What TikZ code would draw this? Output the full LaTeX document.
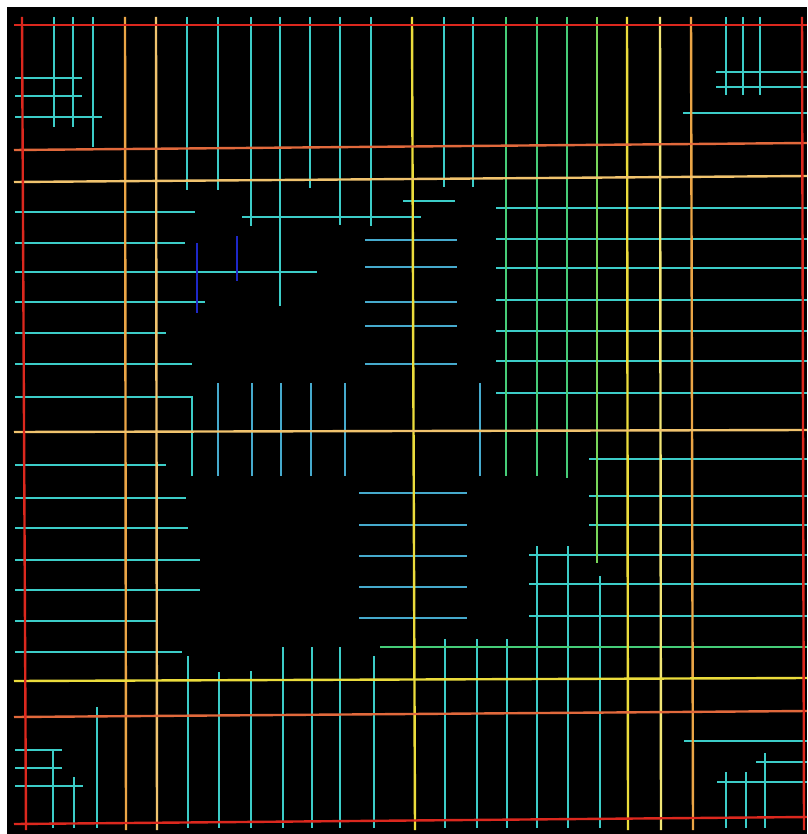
\documentclass[tikz,border=0pt]{standalone}
\definecolor{cred}{RGB}{220,40,30}
\definecolor{corr}{RGB}{225,105,60}
\definecolor{corg}{RGB}{235,165,70}
\definecolor{clor}{RGB}{240,195,110}
\definecolor{cyel}{RGB}{235,220,60}
\definecolor{cgrn}{RGB}{70,205,120}
\definecolor{cygr}{RGB}{120,215,90}
\definecolor{ccyn}{RGB}{60,205,200}
\definecolor{ccyb}{RGB}{70,170,205}
\definecolor{cblu}{RGB}{30,40,200}
\begin{document}
\begin{tikzpicture}[x=1pt,y=-1pt,line width=2.4pt,
  cy/.style={draw=ccyn},
  cb/.style={draw=ccyb},
  rd/.style={draw=cred},
  orr/.style={draw=corr},
  og/.style={draw=corg},
  lo/.style={draw=clor},
  ye/.style={draw=cyel},
  gr/.style={draw=cgrn},
  bl/.style={draw=cblu}]
\useasboundingbox (0,0) rectangle (807,834);
\fill[white] (0,0) rectangle (807,834);
\fill[black] (7,7) rectangle (807,834);
% ---- cyan verticals, top band
\foreach \x/\b in {54/127,73/127,93/147,187/190,218/190,251/226,280/306,310/188,340/225,371/226,444/187,473/187,726/95,743/95,760/95}
  \draw[cy] (\x,17) -- (\x,\b);
% ---- cyan verticals, middle band
\foreach \x in {218,252,281,311,345,480}
  \draw[cb] (\x,383) -- (\x,476);
\draw[cy] (15,397) -- (192,397) -- (192,476);
% ---- cyan verticals, bottom band
\foreach \x/\t in {188/656,219/672,251/671,283/647,312/647,340/647,374/656,445/639,477/639,507/639,537/546,568/546,600/576,726/772,746/772,765/753,97/707,53/750,74/777}
  \draw[cy] (\x,\t) -- (\x,828);
% ---- cyan horizontals, left
\foreach \y/\e in {78/82,96/82,117/102,212/195,243/185,272/317,302/205,333/166,364/192,465/166,498/186,528/188,560/200,590/200,621/157,652/182,750/62,768/62,786/83}
  \draw[cy] (15,\y) -- (\e,\y);
\draw[cy] (242,217) -- (421,217);
\draw[cy] (403,201) -- (455,201);
% ---- cyan horizontals, middle
\foreach \y in {240,267,302,326,364}
  \draw[cb] (365,\y) -- (457,\y);
\foreach \y in {493,525,556,587,618}
  \draw[cb] (359,\y) -- (467,\y);
% ---- cyan horizontals, right
\foreach \y in {208,239,268,300,331,361,393}
  \draw[cy] (496,\y) -- (807,\y);
\foreach \y in {459,496,525}
  \draw[cy] (589,\y) -- (807,\y);
\foreach \y in {555,584,616}
  \draw[cy] (529,\y) -- (807,\y);
\draw[cy] (683,113) -- (807,113);
\draw[cy] (716,72) -- (807,72);
\draw[cy] (716,87) -- (807,87);
\draw[cy] (684,741) -- (807,741);
\draw[cy] (756,762) -- (807,762);
\draw[cy] (717,782) -- (807,782);
% ---- blue
\draw[bl] (197,243) -- (197,313);
\draw[bl] (237,236) -- (237,281);
% ---- green
\draw[gr] (506,17) -- (506,476);
\draw[gr] (537,17) -- (537,476);
\draw[gr] (567,17) -- (567,478);
\draw[draw=cygr] (597,17) -- (597,563);
\draw[gr] (380,647) -- (807,647);
% ---- long coloured lines
\draw[og] (125,17) -- (126,830);
\draw[lo] (156,17) -- (157,830);
\draw[ye] (412,17) -- (415,830);
\draw[ye] (627,17) -- (628,830);
\draw[draw=cyel!70!white] (660,17) -- (661,830);
\draw[og] (691,17) -- (693,830);
\draw[orr] (14,150) -- (807,143);
\draw[lo] (14,182) -- (807,176);
\draw[lo] (14,432) -- (807,430);
\draw[ye] (14,681) -- (807,678);
\draw[orr] (14,717) -- (807,711);
% ---- red frame
\draw[rd] (14,25) -- (807,25);
\draw[rd] (22,17) -- (26,830);
\draw[rd] (14,824) -- (807,817);
\draw[rd] (802,17) -- (804,830);
\end{tikzpicture}
\end{document}
